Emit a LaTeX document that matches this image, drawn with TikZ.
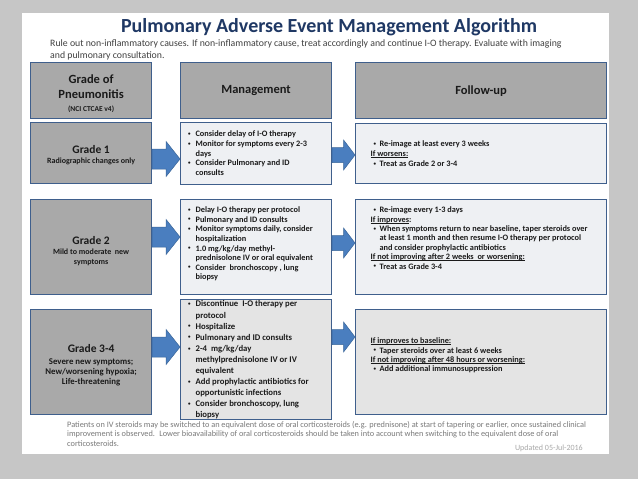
\documentclass[tikz,border=0pt]{standalone}
\usepackage{fontspec}
\setmainfont{Carlito}
\usetikzlibrary{calc}
\definecolor{bg}{HTML}{C6C6C6}
\definecolor{navy}{HTML}{1F3864}
\definecolor{boxline}{HTML}{3F5F8C}
\definecolor{hdrfill}{HTML}{A9A9A9}
\definecolor{lightfill}{HTML}{EEF0F3}
\definecolor{lightgray}{HTML}{E4E4E4}
\definecolor{arrowblue}{HTML}{4A7EBF}
\definecolor{arrowline}{HTML}{3A6699}
\definecolor{txt}{HTML}{1A1A1A}
\definecolor{subtxt}{HTML}{404040}
\definecolor{foot}{HTML}{7A7A7A}
\definecolor{upd}{HTML}{A8A8A8}
% #1 W, #2 H, #3 first baseline from top, #4 font size, #5 baselineskip, #6 leftskip, #7 content
\newcommand\cbody[7]{\parbox[c][#2][t]{#1}{\fontsize{#4}{#5}\selectfont\raggedright\leftskip=#6\relax\rightskip=-60pt plus 1fil\relax
\vspace*{\dimexpr#3-\ht\strutbox\relax}\leavevmode\strut #7}}
\newcommand\smallbul{\raisebox{1.3pt}{\fontsize{5}{5}\selectfont\textbullet}}
\newcommand\mybul{\makebox[8pt][l]{\hspace*{0.5pt}\smallbul}}
\newcommand\myind{\hspace*{8pt}}
\newcommand\fubul{\makebox[9pt][l]{\hspace*{3pt}\smallbul}}
\newcommand\fuind{\hspace*{9pt}}
\newcommand\ulin[1]{\leavevmode{\setbox0\hbox{#1}\rlap{\rule[-1.3pt]{\wd0}{0.5pt}}\box0}}
\newcommand\blockarr[5]{%
 \path[barrow] let \p1=(#1.east), \p2=(#2.west), \p3=(0,#3), \p4=($(\p1)!0.5!(\p2)$) in
  ({\x1},{\y3-#4pt}) -- ({\x4},{\y3-#4pt}) -- ({\x4},{\y3-#5pt}) -- ({\x2},{\y3}) --
  ({\x4},{\y3+#5pt}) -- ({\x4},{\y3+#4pt}) -- ({\x1},{\y3+#4pt}) -- cycle;}
\begin{document}
\begin{tikzpicture}[x=1pt,y=-1pt,
 hdr/.style={draw=boxline, line width=1.2pt, fill=hdrfill, inner sep=0pt, anchor=north west, align=center, text=txt, font=\bfseries},
 cbox/.style={draw=boxline, line width=1.2pt, fill=lightfill, inner sep=0pt, anchor=north west, text=txt, font=\bfseries},
 barrow/.style={fill=arrowblue, draw=arrowline, line width=0.5pt, line join=miter}]
\useasboundingbox (0,0) rectangle (638,479);
\fill[bg] (0,0) rectangle (638,479);
\fill[white] (22,13) rectangle (609,454);
% title and intro
\node[anchor=base, inner sep=0pt, font=\bfseries\fontsize{20}{24}\selectfont, text=navy] (title) at (329,32) {Pulmonary Adverse Event Management Algorithm};
\node[anchor=north west, inner sep=0pt, align=left, font=\fontsize{9.8}{12}\selectfont, text=subtxt] (intro) at (50,39) {Rule out non-inflammatory causes. If non-inflammatory cause, treat accordingly and continue I-O therapy. Evaluate with imaging\\and pulmonary consultation.};
% header row
\node[hdr, minimum width=121pt, minimum height=56pt, font=\bfseries\fontsize{12.5}{15}\selectfont] (h1) at (30,62) {\rule{0pt}{14pt}Grade of\\Pneumonitis\\[-2pt]{\fontsize{7.5}{9}\selectfont (NCI CTCAE v4)}};
\node[hdr, minimum width=151pt, minimum height=56pt, font=\bfseries\fontsize{12.5}{15}\selectfont] (h2) at (180,62) {Management};
\node[hdr, minimum width=251pt, minimum height=56pt, font=\bfseries\fontsize{12.5}{15}\selectfont] (h3) at (355,62) {Follow-up};
% grade boxes
\node[hdr, minimum width=121pt, minimum height=61pt, font=\bfseries\fontsize{8}{10}\selectfont] (g1) at (30,122) {{\fontsize{11.5}{12}\selectfont\rule{0pt}{12pt}Grade 1}\\Radiographic changes only};
\node[hdr, minimum width=121pt, minimum height=95pt, font=\bfseries\fontsize{8}{9.8}\selectfont] (g2) at (30,199) {{\fontsize{11.5}{12}\selectfont\rule{0pt}{16pt}Grade 2}\\Mild to moderate~ new\\symptoms};
\node[hdr, minimum width=121pt, minimum height=105pt, font=\bfseries\fontsize{8.8}{10}\selectfont] (g3) at (30,309) {{\fontsize{11.5}{12}\selectfont\rule{0pt}{14pt}Grade 3-4}\\[1.5pt]Severe new symptoms;\\New/worsening hypoxia;\\Life-threatening};
% management boxes
\node[cbox] (m1) at (180,122) {\cbody{151pt}{62pt}{14pt}{8.3}{9.75}{7pt}{%
\mybul Consider delay of I-O therapy\\
\mybul Monitor for symptoms every 2-3\\
\myind days\\
\mybul Consider Pulmonary and ID\\
\myind consults}};
\node[cbox] (m2) at (180,199) {\cbody{151pt}{95pt}{13pt}{8.3}{9.6}{7pt}{%
\mybul Delay I-O therapy per protocol\\
\mybul Pulmonary and ID consults\\
\mybul Monitor symptoms daily, consider\\
\myind hospitalization\\
\mybul 1.0 mg/kg/day methyl-\\
\myind prednisolone IV or oral equivalent\\
\mybul Consider~ bronchoscopy , lung\\
\myind biopsy}};
\node[cbox, fill=lightgray] (m3) at (180,299) {\cbody{151pt}{120pt}{7.3pt}{8.7}{11.1}{7pt}{%
\mybul Discontinue~ I-O therapy per\\
\myind protocol\\
\mybul Hospitalize\\
\mybul Pulmonary and ID consults\\
\mybul 2-4~ mg/kg/day\\
\myind methylprednisolone IV or IV\\
\myind equivalent\\
\mybul Add prophylactic antibiotics for\\
\myind opportunistic infections\\
\mybul Consider bronchoscopy, lung\\
\myind biopsy}};
% follow-up boxes
\node[cbox] (f1) at (355,123) {\cbody{251pt}{60pt}{23pt}{8.3}{10}{15pt}{%
\fubul Re-image at least every 3 weeks\\
\ulin{If worsens:}\\
\fubul Treat as Grade 2 or 3-4}};
\node[cbox] (f2) at (355,199) {\cbody{251pt}{95pt}{13pt}{8.3}{9.4}{15pt}{%
\fubul Re-image every 1-3 days\\
\ulin{If improves}:\\
\fubul When symptoms return to near baseline, taper steroids over\\
\fuind at least 1 month and then resume I-O therapy per protocol\\
\fuind and consider prophylactic antibiotics\\
\ulin{If not improving after 2 weeks~ or worsening:}\\
\fubul Treat as Grade 3-4}};
\node[cbox, fill=lightgray] (f3) at (355,309) {\cbody{251pt}{105pt}{34pt}{8.3}{9.4}{15pt}{%
\ulin{If improves to baseline:}\\
\fubul Taper steroids over at least 6 weeks\\
\ulin{If not improving after 48 hours or worsening:}\\
\fubul Add additional immunosuppression}};
% arrows
\blockarr{g1}{m1}{159}{10}{17.5}
\blockarr{g2}{m2}{237}{10}{17.5}
\blockarr{g3}{m3}{347}{10}{17.5}
\blockarr{m1}{f1}{155}{7.5}{15}
\blockarr{m2}{f2}{243}{7.5}{15}
\blockarr{m3}{f3}{337}{7.5}{15}
% footnote
\node[anchor=north west, inner sep=0pt, align=left, font=\fontsize{8.3}{9.5}\selectfont, text=foot] (note) at (67,420.8) {Patients on IV steroids may be switched to an equivalent dose of oral corticosteroids (e.g. prednisone) at start of tapering or earlier, once sustained clinical\\improvement is observed.~ Lower bioavailability of oral corticosteroids should be taken into account when switching to the equivalent dose of oral\\corticosteroids.};
\node[anchor=base east, inner sep=0pt, font=\fontsize{8}{9}\selectfont, text=upd] (upd) at (583,450.5) {Updated 05-Jul-2016};
\end{tikzpicture}
\end{document}
